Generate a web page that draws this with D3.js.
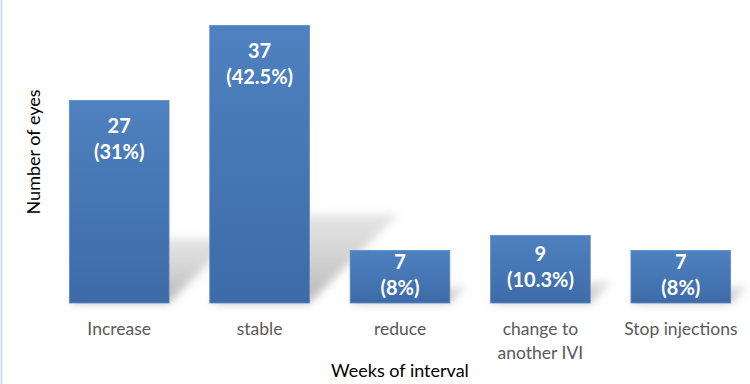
<!DOCTYPE html>
<html>
<head>
<style>
  body{
    margin: 0;
    background: white;
    font-family: 'Lato', sans-serif;
  }
</style>
</head>
<body>
<svg id='svgVis'></svg>
<script src="https://cdn.jsdelivr.net/npm/d3@7/dist/d3.min.js"></script>
<script>

// chart values
var categories = ["Increase", "stable", "reduce", "change to another IVI", "Stop injections"];
var tickLines = [["Increase"], ["stable"], ["reduce"], ["change to", "another IVI"], ["Stop injections"]];
var eyes = [27, 37, 7, 9, 7];
var percents = ["31%", "42.5%", "8%", "10.3%", "8%"];

var width = 750,
    height = 384;

var svg = d3.select("#svgVis")
    .attr("width", width)
    .attr("height", height);

var defs = svg.append("defs");

var barGrad = defs.append("linearGradient")
    .attr("id", "barGrad")
    .attr("x1", 0).attr("y1", 0).attr("x2", 0).attr("y2", 1);
barGrad.append("stop").attr("offset", "0%").attr("stop-color", "#4f81c0");
barGrad.append("stop").attr("offset", "100%").attr("stop-color", "#3d6ba7");

var shadowGrad = defs.append("linearGradient")
    .attr("id", "shadowGrad")
    .attr("x1", 0).attr("y1", 1).attr("x2", 0).attr("y2", 0);
shadowGrad.append("stop").attr("offset", "0%").attr("stop-color", "#b8b8b8").attr("stop-opacity", 1);
shadowGrad.append("stop").attr("offset", "100%").attr("stop-color", "#cccccc").attr("stop-opacity", 0.5);

defs.append("filter")
    .attr("id", "blur")
    .attr("x", "-50%").attr("y", "-50%").attr("width", "200%").attr("height", "200%")
    .append("feGaussianBlur")
    .attr("stdDeviation", 4);

// left border of the chart area
svg.append("line")
    .attr("x1", 1.5).attr("x2", 1.5)
    .attr("y1", 0).attr("y2", height)
    .attr("stroke", "#d5dbe5")
    .attr("stroke-width", 2);

var x = d3.scaleBand()
    .domain(categories)
    .range([49, 751])
    .paddingInner(0.29)
    .paddingOuter(0.145);

var y = d3.scaleLinear()
    .domain([0, 40])
    .range([303, 3]);

var data = categories.map(function(c, i) {
  return {cat: c, value: eyes[i], pct: percents[i], lines: tickLines[i]};
});

// perspective shadows behind the bars
var shadowScale = 0.32,
    shadowSkew = 1.0;

svg.append("g")
  .selectAll("path")
  .data(data)
  .enter()
  .append("path")
  .attr("d", function(d) {
    var x0 = x(d.cat), x1 = x0 + x.bandwidth();
    var h = (y(0) - y(d.value)) * shadowScale;
    var dx = h * shadowSkew;
    return "M" + x0 + "," + y(0) +
      "L" + (x0 + dx) + "," + (y(0) - h) +
      "L" + (x1 + dx) + "," + (y(0) - h) +
      "L" + x1 + "," + y(0) + "Z";
  })
  .attr("fill", "url(#shadowGrad)")
  .attr("filter", "url(#blur)");

// bars
svg.append("g")
  .selectAll("rect")
  .data(data)
  .enter()
  .append("rect")
  .attr("x", function(d) { return x(d.cat); })
  .attr("y", function(d) { return y(d.value); })
  .attr("width", x.bandwidth())
  .attr("height", function(d) { return y(0) - y(d.value); })
  .attr("fill", "url(#barGrad)")
  .attr("stroke", "#5a8ac6")
  .attr("stroke-width", 0.8);

// value labels inside bars
var labels = svg.append("g")
  .selectAll("text")
  .data(data)
  .enter()
  .append("text")
  .attr("text-anchor", "middle")
  .style("font-size", "20px")
  .style("font-weight", "bold")
  .style("fill", "#fff")
  .attr("transform", function(d) {
    var h = y(0) - y(d.value);
    var off = Math.min(32, h / 2 - 8.25);
    return "translate(" + (x(d.cat) + x.bandwidth() / 2) + "," + (y(d.value) + off) + ")";
  });

labels.append("tspan")
  .attr("x", 0).attr("y", 0)
  .text(function(d) { return d.value; });

labels.append("tspan")
  .attr("x", 0).attr("y", 26)
  .text(function(d) { return "(" + d.pct + ")"; });

// category labels
var ticks = svg.append("g")
  .selectAll("text")
  .data(data)
  .enter()
  .append("text")
  .attr("text-anchor", "middle")
  .style("font-size", "17.5px")
  .style("fill", "#595959")
  .attr("transform", function(d) {
    return "translate(" + (x(d.cat) + x.bandwidth() / 2) + ",335)";
  });

ticks.selectAll("tspan")
  .data(function(d) { return d.lines; })
  .enter()
  .append("tspan")
  .attr("x", 0)
  .attr("y", function(d, i) { return i * 24; })
  .text(function(d) { return d; });

// axis titles
svg.append("text")
  .attr("x", 400)
  .attr("y", 377)
  .attr("text-anchor", "middle")
  .style("font-size", "18px")
  .style("fill", "#000")
  .text("Weeks of interval");

svg.append("text")
  .attr("transform", "translate(40,152) rotate(-90)")
  .attr("text-anchor", "middle")
  .style("font-size", "18px")
  .style("fill", "#000")
  .text("Number of eyes");

</script>
</body>
</html>
